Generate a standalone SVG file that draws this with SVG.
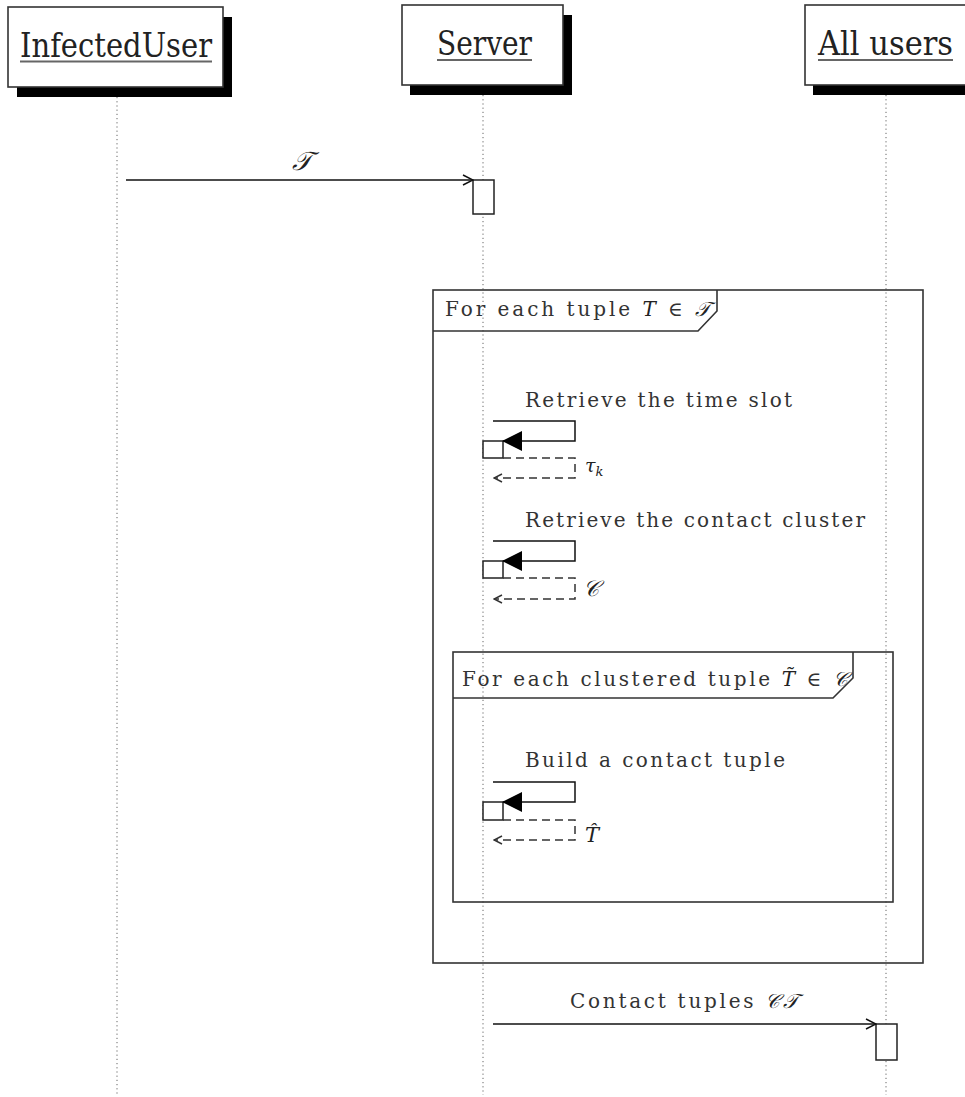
<svg xmlns="http://www.w3.org/2000/svg" width="965" height="1097" viewBox="0 0 965 1097">
<style>
  .hdr { fill:#fff; stroke:#333; stroke-width:1.6; }
  .shadow { fill:#000; }
  .title { font-family:'DejaVu Serif',serif; font-size:34px; fill:#222; }
  .uline { stroke:#666; stroke-width:2.2; }
  .life { stroke:#666; stroke-width:1; stroke-dasharray:1.2 3; fill:none; }
  .msg { stroke:#111; stroke-width:1.5; fill:none; }
  .ret { stroke:#333; stroke-width:1.5; fill:none; stroke-dasharray:8 5; }
  .act { fill:#fff; stroke:#222; stroke-width:1.5; }
  .frame { fill:none; stroke:#333; stroke-width:1.6; }
  .lbl { font-family:'DejaVu Serif',serif; font-size:20px; fill:#333; }
  .math { font-family:'DejaVu Serif',serif; font-style:italic; fill:#222; }
</style>
<defs>
  <marker id="open" viewBox="0 0 12 12" refX="11" refY="6" markerWidth="12" markerHeight="12" markerUnits="userSpaceOnUse" orient="auto">
    <path d="M1,1 L11,6 L1,11" fill="none" stroke="#111" stroke-width="1.5"/>
  </marker>
  <marker id="filled" viewBox="0 0 20 20" refX="19" refY="10" markerWidth="20" markerHeight="20" markerUnits="userSpaceOnUse" orient="auto">
    <path d="M0,0 L20,10 L0,20 Z" fill="#000"/>
  </marker>
  <marker id="openret" viewBox="0 0 10 10" refX="9" refY="5" markerWidth="10" markerHeight="10" markerUnits="userSpaceOnUse" orient="auto">
    <path d="M1,1 L9,5 L1,9" fill="none" stroke="#333" stroke-width="1.5"/>
  </marker>
</defs>
<rect width="965" height="1097" fill="#fff"/>

<g id="lifelines">
  <line class="life" x1="117" y1="97" x2="117" y2="1095"/>
  <line class="life" x1="483" y1="95" x2="483" y2="1095"/>
  <line class="life" x1="886" y1="95" x2="886" y2="1095"/>
</g>

<g id="node-infecteduser">
  <rect class="shadow" x="17" y="17" width="215" height="80"/>
  <rect class="hdr" x="8" y="7" width="215" height="80"/>
  <text class="title" x="20" y="57" textLength="192" lengthAdjust="spacingAndGlyphs">InfectedUser</text>
  <line class="uline" x1="20" y1="61.5" x2="212" y2="61.5"/>
</g>

<g id="node-server">
  <rect class="shadow" x="410" y="15" width="162" height="80"/>
  <rect class="hdr" x="402" y="5" width="161" height="80"/>
  <text class="title" x="437" y="55" textLength="95" lengthAdjust="spacingAndGlyphs">Server</text>
  <line class="uline" x1="437" y1="60" x2="532" y2="60"/>
</g>

<g id="node-allusers">
  <rect class="shadow" x="813" y="15" width="170" height="80"/>
  <rect class="hdr" x="805" y="5" width="170" height="80"/>
  <text class="title" x="818" y="55" textLength="135" lengthAdjust="spacingAndGlyphs">All users</text>
  <line class="uline" x1="818" y1="60" x2="953" y2="60"/>
</g>

<g id="frame-outer">
  <rect class="frame" x="433" y="290" width="490" height="673"/>
  <path class="frame" d="M433,331 L698,331 L717,311 L717,290"/>
  <text class="lbl" x="445" y="316" textLength="265" lengthAdjust="spacing">For each tuple <tspan class="math">T</tspan> ∈ <tspan class="math">𝒯</tspan></text>
</g>

<g id="frame-inner">
  <rect class="frame" x="453" y="652" width="440" height="250"/>
  <path class="frame" d="M453,698 L833,698 L853,678 L853,652"/>
  <text class="lbl" x="462" y="686" textLength="386" lengthAdjust="spacing">For each clustered tuple <tspan class="math">T̃</tspan> ∈ <tspan class="math">𝒞</tspan></text>
</g>

<g id="activations">
  <rect class="act" x="473" y="180" width="21" height="34"/>
  <rect class="act" x="483" y="441" width="20" height="17"/>
  <rect class="act" x="483" y="561" width="20" height="17"/>
  <rect class="act" x="483" y="802" width="20" height="18"/>
  <rect class="act" x="876" y="1024" width="21" height="36"/>
</g>

<g id="connectors">
  <line class="msg" x1="126" y1="180" x2="473" y2="180" marker-end="url(#open)"/>
  <text class="math" x="302" y="170" font-size="26" text-anchor="middle">𝒯</text>

  <text class="lbl" x="525" y="407" textLength="267" lengthAdjust="spacing">Retrieve the time slot</text>
  <path class="msg" d="M493,421 L575,421 L575,441 L503,441" marker-end="url(#filled)"/>
  <path class="ret" d="M503,458 L575,458 L575,478 L494,478" marker-end="url(#openret)"/>
  <text class="math" x="585" y="472" font-size="19">τ<tspan font-size="13" dy="4">k</tspan></text>

  <text class="lbl" x="525" y="527" textLength="340" lengthAdjust="spacing">Retrieve the contact cluster</text>
  <path class="msg" d="M493,541 L575,541 L575,561 L503,561" marker-end="url(#filled)"/>
  <path class="ret" d="M503,578 L575,578 L575,599 L494,599" marker-end="url(#openret)"/>
  <text class="math" x="583" y="596" font-size="22">𝒞</text>

  <text class="lbl" x="525" y="767" textLength="260" lengthAdjust="spacing">Build a contact tuple</text>
  <path class="msg" d="M493,782 L575,782 L575,802 L503,802" marker-end="url(#filled)"/>
  <path class="ret" d="M503,820 L575,820 L575,840 L494,840" marker-end="url(#openret)"/>
  <text class="math" x="585" y="842" font-size="21">T̂</text>

  <line class="msg" x1="493" y1="1024" x2="876" y2="1024" marker-end="url(#open)"/>
  <text class="lbl" x="570" y="1008" textLength="228" lengthAdjust="spacing">Contact tuples <tspan class="math">𝒞𝒯</tspan></text>
</g>
</svg>
